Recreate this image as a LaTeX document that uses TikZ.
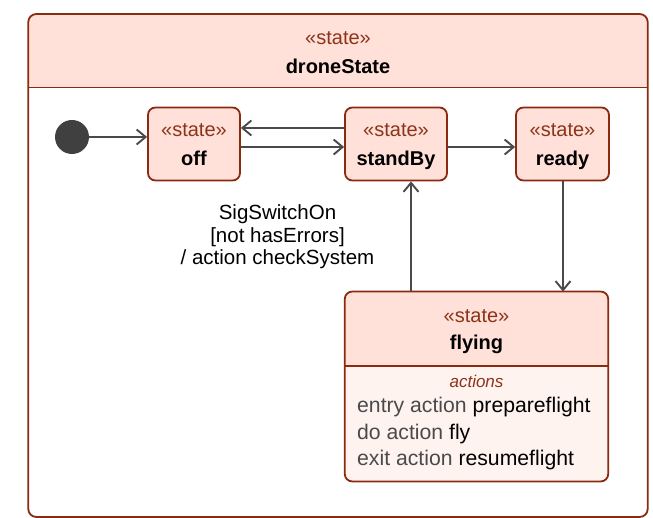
\documentclass[tikz,border=0pt]{standalone}
\usepackage{fontspec}
\setmainfont{Liberation Sans}
\usetikzlibrary{arrows.meta}
\definecolor{bord}{HTML}{8A2B10}
\definecolor{hdr}{HTML}{FFE1DA}
\definecolor{bodyfill}{HTML}{FFF3F0}
\definecolor{stereo}{HTML}{8C3419}
\definecolor{arr}{HTML}{4A4A4A}
\definecolor{greytext}{HTML}{4A4A4A}
\definecolor{dotfill}{HTML}{404040}
\begin{document}
\begin{tikzpicture}[x=1pt,y=-1pt,
  statebox/.style={draw=bord, line width=1.8pt, rounded corners=7.5pt, fill=hdr, inner sep=0pt},
  frame/.style={draw=bord, line width=1.8pt, rounded corners=8pt},
  divider/.style={draw=bord, line width=1.8pt},
  conn/.style={draw=arr, line width=1.9pt, -{Straight Barb[length=9pt,width=15pt,line width=1.9pt]}},
  stx/.style={text=stereo, font=\fontsize{20}{24}\selectfont, anchor=base, inner sep=0pt},
  nmx/.style={text=black, font=\fontsize{20}{24}\selectfont\bfseries, anchor=base, inner sep=0pt},
  lbl/.style={text=black, font=\fontsize{20.5}{22.5}\selectfont, align=center, inner sep=0pt},
  act/.style={text=greytext, font=\fontsize{21.2}{25}\selectfont, anchor=base west, inner sep=0pt},
]
\useasboundingbox (0,0) rectangle (653,518);

% outer composite state
\node[inner sep=0pt, minimum width=619pt, minimum height=502.5pt] (drone) at (338,265.5) {};
\begin{scope}
  \clip[rounded corners=8pt] (drone.south west) rectangle (drone.north east);
  \fill[hdr] (drone.north west) rectangle (drone.east |- 0,87.5);
\end{scope}
\draw[divider] (drone.west |- 0,87.5) -- (drone.east |- 0,87.5);
\draw[frame] (drone.south west) rectangle (drone.north east);
\node[stx] (dronest) at (338,45) {«state»};
\node[nmx] (dronenm) at (338,74) {droneState};

% initial pseudostate
\node[circle, fill=dotfill, minimum size=34pt, inner sep=0pt] (init) at (72,137) {};

% simple states
\node[statebox, minimum width=92pt, minimum height=73pt] (off) at (194,144) {};
\node[stx] (offst) at (194,137) {«state»};
\node[nmx] (offnm) at (194,166) {off};

\node[statebox, minimum width=102pt, minimum height=73pt] (standby) at (396,144) {};
\node[stx] (standbyst) at (396,137) {«state»};
\node[nmx] (standbynm) at (396,166) {standBy};

\node[statebox, minimum width=93pt, minimum height=73pt] (ready) at (562.5,144) {};
\node[stx] (readyst) at (562.5,137) {«state»};
\node[nmx] (readynm) at (562.5,166) {ready};

% flying state with actions compartment
\node[inner sep=0pt, minimum width=263pt, minimum height=189.5pt] (flying) at (476.5,386.5) {};
\begin{scope}
  \clip[rounded corners=7.5pt] (flying.south west) rectangle (flying.north east);
  \fill[bodyfill] (flying.south west) rectangle (flying.north east);
  \fill[hdr] (flying.north west) rectangle (flying.east |- 0,366);
\end{scope}
\draw[divider] (flying.west |- 0,366) -- (flying.east |- 0,366);
\draw[frame, rounded corners=7.5pt] (flying.south west) rectangle (flying.north east);
\node[stx] (flyingst) at (476.5,323) {«state»};
\node[nmx] (flyingnm) at (476.5,349) {flying};
\node[stx, font=\fontsize{17}{20}\selectfont\itshape] (actions) at (476.5,388) {actions};
\node[act] (entry) at (357,412.5) {entry action \textcolor{black}{prepareflight}};
\node[act] (doact) at (357,439) {do action \textcolor{black}{fly}};
\node[act] (exitact) at (357,465) {exit action \textcolor{black}{resumeflight}};

% transitions
\draw[conn] (init.east) -- (init.east -| off.west);
\draw[conn] ([yshift=16pt]standby.west) -- ([yshift=16pt]off.east);
\draw[conn] ([yshift=-3pt]off.east) -- ([yshift=-3pt]standby.west);
\draw[conn] ([yshift=-3pt]standby.east) -- ([yshift=-3pt]ready.west);
\coordinate (rdx) at ([xshift=0.5pt]ready.south);
\draw[conn] (rdx) -- (rdx |- flying.north);
\coordinate (sbx) at ([xshift=15pt]standby.south);
\draw[conn] (sbx |- flying.north) -- (sbx);

\node[lbl] (guard) at (277.5,237) {SigSwitchOn\\{}[not hasErrors]\\/ action checkSystem};
\end{tikzpicture}
\end{document}
